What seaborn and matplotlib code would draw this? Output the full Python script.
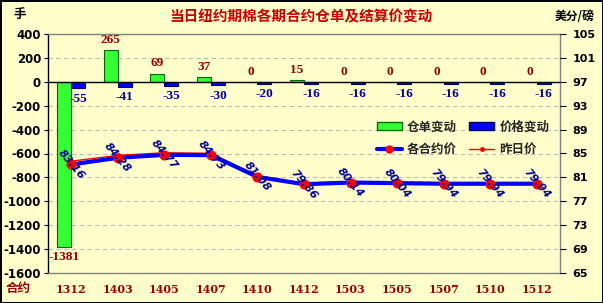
import numpy as np
import pandas as pd
import matplotlib
matplotlib.use("Agg")
import matplotlib.pyplot as plt
import seaborn as sns
from matplotlib.patches import Patch
from matplotlib.lines import Line2D

contracts = ["1312", "1403", "1405", "1407", "1410", "1412", "1503", "1505", "1507", "1510", "1512"]
warrant_change = [-1381, 265, 69, 37, 0, 15, 0, 0, 0, 0, 0]
price_change = [-55, -41, -35, -30, -20, -16, -16, -16, -16, -16, -16]
price_today = [83.16, 84.28, 84.77, 84.73, 81.08, 79.86, 80.14, 80.04, 79.94, 79.94, 79.94]
price_yesterday = [83.71, 84.69, 85.12, 85.03, 81.28, 80.02, 80.30, 80.20, 80.10, 80.10, 80.10]
left_ticks = [-1600, -1400, -1200, -1000, -800, -600, -400, -200, 0, 200, 400]
right_ticks = [65, 69, 73, 77, 81, 85, 89, 93, 97, 101, 105]

title = "当日纽约期棉各期合约仓单及结算价变动"

sns.set_theme(style="white")
plt.rcParams['font.family'] = ['Noto Sans CJK SC', 'DejaVu Sans']
plt.rcParams['axes.unicode_minus'] = False

BG = "#FFFFCC"
DARKRED = "#990000"
NAVY = "#000099"

fig = plt.figure(figsize=(6.03, 3.03), dpi=100)
fig.patch.set_facecolor(BG)
fig.patch.set_edgecolor("black")
fig.patch.set_linewidth(2)

ax = fig.add_axes([48/603, 1-273/303, (560-48)/603, (273-34)/303])
ax.set_facecolor(BG)

df = pd.DataFrame({
    "合约": contracts * 2,
    "值": warrant_change + price_change,
    "系列": ["仓单变动"] * len(contracts) + ["价格变动"] * len(contracts),
})
sns.barplot(data=df, x="合约", y="值", hue="系列", order=contracts,
            hue_order=["仓单变动", "价格变动"],
            palette={"仓单变动": "#33FF33", "价格变动": "#0000FF"},
            width=0.6, gap=0, ax=ax, legend=False, saturation=1)

edge = ["#006600", "#000066"]
for c, ec in zip(ax.containers, edge):
    for p in c:
        p.set_edgecolor(ec)
        p.set_linewidth(0.8)

ax.bar_label(ax.containers[0], labels=[str(v) for v in warrant_change], padding=3,
             color=DARKRED, fontsize=9.5, family="Liberation Serif", fontweight="bold")
ax.bar_label(ax.containers[1], labels=[str(v) for v in price_change], padding=3,
             color=NAVY, fontsize=9.5, family="Liberation Serif", fontweight="bold")

ax.set_ylim(-1600, 400)
ax.set_xlim(-0.5, len(contracts) - 0.5)
ax.set_yticks(left_ticks)
ax.set_yticklabels([str(t) for t in left_ticks], fontsize=8.5, fontweight="bold",
                   family="DejaVu Sans", color="black")
ax.set_xticks(range(len(contracts)))
ax.set_xticklabels(contracts, fontsize=8, fontweight="bold", family="DejaVu Serif", color=DARKRED)
ax.tick_params(axis="x", length=0, pad=8)
ax.tick_params(axis="y", direction="out", length=3, width=0.8, color="black", pad=2, left=True)
ax.set_xlabel("")
ax.set_ylabel("")
ax.grid(axis="y", linestyle=(0, (4, 3)), color="#BBBBBB", linewidth=0.8)
ax.set_axisbelow(True)
ax.axhline(0, color="black", linewidth=1, zorder=1.5)
ax.spines["left"].set_color("black")
for s in ["bottom", "top", "right"]:
    ax.spines[s].set_color("#808080")
for s in ax.spines.values():
    s.set_linewidth(1)

ax2 = ax.twinx()
sns.pointplot(x=contracts, y=price_yesterday, order=contracts, color="red", ax=ax2,
              markers="o", markersize=2.5, linewidth=1, errorbar=None)
sns.pointplot(x=contracts, y=price_today, order=contracts, color="#0000FF", ax=ax2,
              markers="o", markersize=5, linewidth=3, errorbar=None,
              markerfacecolor="red", markeredgecolor="red")
ax2.set_ylim(65, 105)
ax2.set_yticks(right_ticks)
ax2.set_yticklabels([str(t) for t in right_ticks], fontsize=8, fontweight="bold",
                    family="DejaVu Sans", color="black")
ax2.tick_params(axis="y", direction="out", length=4, width=0.8, color="black", pad=5, right=True)
ax2.set_xlim(-0.5, len(contracts) - 0.5)
ax2.set_ylabel("")
ax2.set_xlabel("")
ax2.grid(False)
for s in ax2.spines.values():
    s.set_visible(False)

for i, v in enumerate(price_today):
    ax2.text(i, v, f"{v:.2f}", rotation=-50, rotation_mode="anchor", ha="center", va="center",
             fontsize=8, fontweight="bold", style="italic", color=NAVY,
             family="DejaVu Sans", zorder=5)

handles = [
    Patch(facecolor="#33FF33", edgecolor="#006600", label="仓单变动"),
    Line2D([0], [0], color="#0000FF", lw=3, marker="o", markersize=5,
           markerfacecolor="red", markeredgecolor="red", label="各合约价"),
    Patch(facecolor="#0000FF", edgecolor="#000066", label="价格变动"),
    Line2D([0], [0], color="red", lw=1, marker="o", markersize=2.5, label="昨日价"),
]
leg = ax2.legend(handles=handles, ncol=2, loc="upper left", bbox_to_anchor=(0.63, 0.665),
                 frameon=False, prop={"family": "Noto Sans CJK SC", "size": 9, "weight": "bold"},
                 handlelength=2.0, handleheight=0.6, columnspacing=1.0, labelspacing=0.75,
                 handletextpad=0.4, borderpad=0)

fig.text(0.5, 1-16/303, title, ha="center", va="center", color="#CC0000",
         fontsize=10.5, fontweight="bold", family="Noto Sans CJK SC")
fig.text(20/603, 1-14/303, "手", ha="center", va="center", color="black",
         fontsize=9, fontweight="bold", family="Noto Sans CJK SC")
fig.text(575/603, 1-16/303, "美分/磅", ha="center", va="center", color="black",
         fontsize=8.5, fontweight="bold", family=["Noto Sans CJK SC", "DejaVu Sans"])
fig.text(18/603, 1-288/303, "合约", ha="center", va="center", color=DARKRED,
         fontsize=9, fontweight="bold", family="Noto Sans CJK SC")

fig.savefig("out.png", dpi=100, facecolor=BG, edgecolor="black")
